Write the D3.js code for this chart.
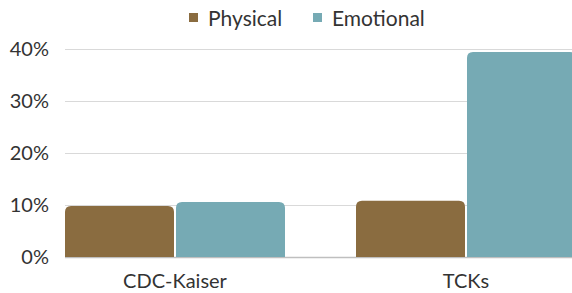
<!DOCTYPE html>
<html>
<head>
<meta charset="utf-8">
<script src="https://cdn.jsdelivr.net/npm/d3@7"></script>
<style>
body{margin:0;background:#fff;}
svg{display:block;font-family:Lato,"Open Sans",sans-serif;}
</style>
</head>
<body>
<svg id="chart" width="572" height="293"></svg>
<script>
const categories = ["CDC-Kaiser","TCKs"];
const series = ["Physical","Emotional"];
const physical = [9.8, 10.8];
const emotional = [10.6, 39.4];
const yTicks = [0,10,20,30,40];
const colors = ["#8a6c40","#76aab4"];

const svg = d3.select("#chart");
const plotTop=49, plotBottom=257;

let y = d3.scaleLinear().domain([0,40]).range([plotBottom,plotTop]);
let x0 = d3.scaleBand().domain(categories).range([29.5,611.5]).paddingInner(0.244).paddingOuter(0.122);
let x1 = d3.scaleBand().domain(series).range([0,x0.bandwidth()]).paddingInner(0.018);

// y labels
let yAxis = d3.axisLeft(y).tickValues(yTicks).tickSize(0).tickFormat(d=>d+"%");
let ga = svg.append("g").attr("transform","translate(49,0)").call(yAxis);
ga.select(".domain").remove();
ga.selectAll("text").attr("x",0).style("font-size","20px").style("fill","#333").style("font-family","Lato");

// gridlines
svg.append("g").selectAll("line")
    .data(yTicks).enter()
    .append("line")
    .attr("x1",65).attr("x2",572)
    .attr("y1",d=>Math.round(y(d))+0.5).attr("y2",d=>Math.round(y(d))+0.5)
    .style("stroke",d=>d==0?"#bfbfbf":"#d9d9d9")
    .style("stroke-width",d=>d==0?1.5:1);

// rounded-top bar path
function barPath(x,yTop,w,h,r){
    r=Math.min(r,h);
    return "M"+x+","+(yTop+h)+"V"+(yTop+r)+"Q"+x+","+yTop+" "+(x+r)+","+yTop
        +"H"+(x+w-r)+"Q"+(x+w)+","+yTop+" "+(x+w)+","+(yTop+r)+"V"+(yTop+h)+"Z";
}

let rows = categories.map((c,i)=>({cat:c, vals:[physical[i],emotional[i]]}));
let groups = svg.append("g").selectAll("g")
    .data(rows).enter()
    .append("g")
    .attr("transform",d=>"translate("+x0(d.cat)+",0)");
groups.selectAll("path")
    .data(d=>d.vals.map((v,j)=>({s:series[j],v:v,j:j})))
    .enter().append("path")
    .attr("d",d=>barPath(x1(d.s),y(d.v),x1.bandwidth(),plotBottom-y(d.v),6))
    .style("fill",d=>colors[d.j]);

// x axis labels
let xAxis = d3.axisBottom(x0).tickSize(0);
let gx = svg.append("g").attr("transform","translate(0,"+plotBottom+")").call(xAxis);
gx.select(".domain").remove();
gx.selectAll("text").attr("y",17).style("font-size","20px").style("fill","#333").style("font-family","Lato");

// legend
let legendX = [189,313];
let lg = svg.append("g").selectAll("g")
    .data(series).enter()
    .append("g")
    .attr("transform",(d,i)=>"translate("+legendX[i]+",0)");
lg.append("rect").attr("x",0).attr("y",13).attr("width",9).attr("height",9)
    .style("fill",(d,i)=>colors[i]);
lg.append("text").attr("x",19).attr("y",26).text(d=>d)
    .style("font-size","21px").style("fill","#333");
</script>
</body>
</html>
